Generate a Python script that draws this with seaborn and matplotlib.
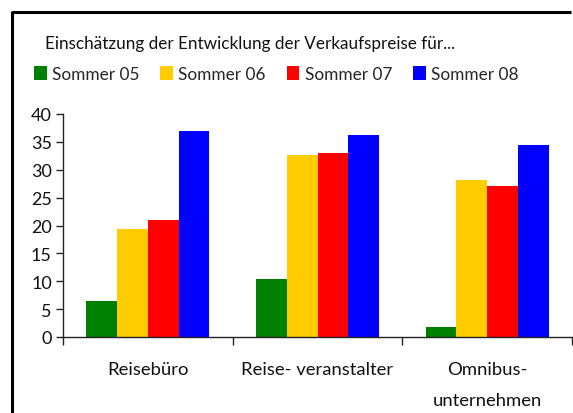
import matplotlib
matplotlib.use("Agg")
import matplotlib.pyplot as plt
import seaborn as sns
import pandas as pd
from matplotlib.lines import Line2D
from matplotlib.ticker import FixedLocator

categories = ["Reisebüro", "Reise- veranstalter", "Omnibus-\nunternehmen"]
series = ["Sommer 05", "Sommer 06", "Sommer 07", "Sommer 08"]
sommer05 = [6.5, 10.4, 1.8]
sommer06 = [19.4, 32.6, 28.2]
sommer07 = [21.0, 33.0, 27.1]
sommer08 = [37.0, 36.2, 34.4]
colors = ["#008000", "#FFCC00", "#FF0000", "#0000FF"]
title = "Einschätzung der Entwicklung der Verkaufspreise für..."

rows = []
for s, vals in zip(series, [sommer05, sommer06, sommer07, sommer08]):
    for c, v in zip(categories, vals):
        rows.append({"Kategorie": c, "Serie": s, "Wert": v})
df = pd.DataFrame(rows)

sns.set_theme(style="white")
plt.rcParams["font.family"] = ["Lato", "DejaVu Sans"]

fig = plt.figure(figsize=(5.73, 4.14), dpi=100)
ax = fig.add_axes([63/573, 1-338/414, (572-63)/573, (338-115)/414])

sns.barplot(data=df, x="Kategorie", y="Wert", hue="Serie", order=categories,
            hue_order=series, palette=colors, width=0.725, saturation=1,
            edgecolor="none", linewidth=0, ax=ax, legend=True)

ax.set_xlim(-0.5, 2.5)
ax.set_ylim(0, 40)
ax.set_yticks([0, 5, 10, 15, 20, 25, 30, 35, 40])
ax.set_xlabel("")
ax.set_ylabel("")
for side in ["top", "right"]:
    ax.spines[side].set_visible(False)
for side in ["left", "bottom"]:
    ax.spines[side].set_color("#222222")
    ax.spines[side].set_linewidth(1.0)

ax.xaxis.set_major_locator(FixedLocator([-0.5, 0.5, 1.5, 2.5]))
ax.xaxis.set_minor_locator(FixedLocator([0, 1, 2]))
ax.set_xticklabels([], minor=False)
ax.set_xticklabels(categories, minor=True, fontsize=13.3, color="#111111",
                   linespacing=2.2, va="top")
ax.tick_params(axis="x", which="major", length=6, width=1, color="#222222", direction="out", bottom=True)
ax.tick_params(axis="x", which="minor", length=0, pad=17)
ax.tick_params(axis="y", length=5, width=1, color="#222222", direction="out", left=True,
               labelsize=13, labelcolor="#111111", pad=3)

handles, labels = ax.get_legend_handles_labels()
ax.get_legend().remove()
fig.legend(handles, labels, loc="center left", bbox_to_anchor=(34/573, 1-75/414),
           ncol=4, frameon=False, fontsize=12.4, handlelength=0.75, handleheight=0.8,
           handletextpad=0.3, columnspacing=1.2, borderaxespad=0, borderpad=0)

fig.text(45/573, 1-44/414, title, fontsize=12.3, color="#111111", va="center", ha="left")

# frame lines (top and left)
fig.add_artist(Line2D([12/573, 571/573], [1-13/414, 1-13/414], transform=fig.transFigure,
                      color="black", linewidth=2.2, solid_capstyle="butt"))
fig.add_artist(Line2D([12/573, 12/573], [0.0, 1-12/414], transform=fig.transFigure,
                      color="black", linewidth=2.2, solid_capstyle="butt"))

fig.savefig("out.png", dpi=100)
